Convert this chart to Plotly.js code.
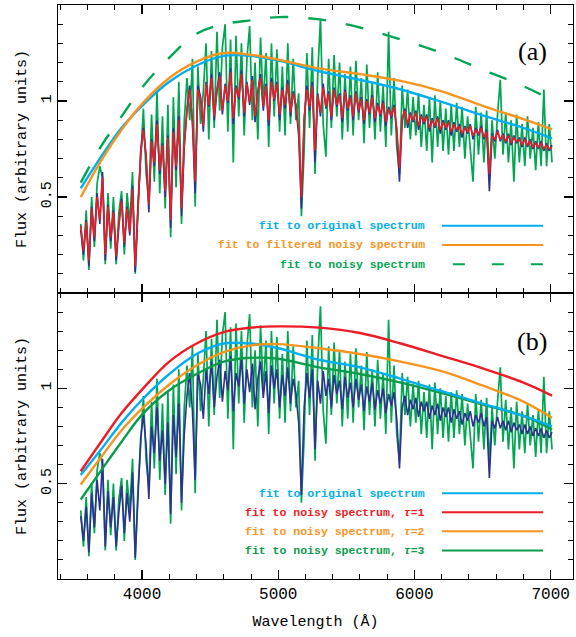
<!DOCTYPE html>
<html><head><meta charset="utf-8">
<script src="https://cdn.plot.ly/plotly-3.0.1.min.js"></script>
<style>html,body{margin:0;padding:0;background:#fff;} #chart{width:576px;height:637px;}</style>
</head><body><div id="chart"></div>
<script>
// Wavelength grid of the spectra (Angstrom)
const wavelength = [
3550,3570,3590,3610,3630,3650,3670,3690,3710,3730,
3750,3770,3790,3810,3830,3850,3870,3890,3910,3930,
3950,3970,3990,4010,4030,4050,4070,4090,4110,4130,
4150,4170,4190,4210,4230,4250,4270,4290,4310,4330,
4350,4370,4390,4410,4430,4450,4470,4490,4510,4530,
4550,4570,4590,4610,4630,4650,4670,4690,4710,4730,
4750,4770,4790,4810,4830,4850,4870,4890,4910,4930,
4950,4970,4990,5010,5030,5050,5070,5090,5110,5130,
5150,5170,5190,5210,5230,5250,5270,5290,5310,5330,
5350,5370,5390,5410,5430,5450,5470,5490,5510,5530,
5550,5570,5590,5610,5630,5650,5670,5690,5710,5730,
5750,5770,5790,5810,5830,5850,5870,5890,5910,5930,
5950,5970,5990,6010,6030,6050,6070,6090,6110,6130,
6150,6170,6190,6210,6230,6250,6270,6290,6310,6330,
6350,6370,6390,6410,6430,6450,6470,6490,6510,6530,
6550,6570,6590,6610,6630,6650,6670,6690,6710,6730,
6750,6770,6790,6810,6830,6850,6870,6890,6910,6930,
6950,6970,6990,7010];

// Original spectrum (dark blue)
const originalSpectrum = [
0.33,0.20,0.38,0.14,0.45,0.27,0.52,0.36,0.63,0.17,
0.46,0.27,0.43,0.17,0.35,0.49,0.24,0.45,0.30,0.56,
0.11,0.42,0.74,0.86,0.70,0.42,0.80,0.66,0.90,0.62,
0.78,0.50,0.82,0.34,0.86,0.64,0.92,0.40,0.76,0.96,
1.08,0.88,0.52,1.08,1.02,0.84,1.10,0.97,1.14,0.90,
1.06,1.15,0.93,1.09,0.99,1.17,0.88,1.08,1.01,1.16,
0.92,1.10,0.98,1.13,0.89,1.05,1.14,0.95,1.09,0.87,
1.12,1.00,1.10,0.90,1.07,0.96,1.11,0.92,1.05,0.97,
0.82,0.44,0.90,1.08,0.95,1.10,0.68,1.04,0.92,1.09,
0.96,1.05,0.90,1.07,0.97,1.04,0.89,1.06,0.95,1.03,
0.90,1.05,0.94,1.02,0.88,1.01,0.93,1.03,0.89,0.99,
0.92,1.00,0.87,0.97,0.91,0.98,0.84,0.58,0.90,0.96,
0.86,0.94,0.89,0.95,0.85,0.93,0.88,0.93,0.84,0.91,
0.86,0.92,0.83,0.90,0.85,0.90,0.82,0.89,0.84,0.88,
0.81,0.87,0.83,0.88,0.80,0.86,0.82,0.87,0.80,0.85,
0.53,0.83,0.79,0.85,0.79,0.83,0.78,0.83,0.77,0.82,
0.78,0.81,0.76,0.81,0.76,0.80,0.75,0.79,0.75,0.79,
0.74,0.78,0.74,0.77];

// Filtered noisy spectrum (red)
const filteredSpectrum = [
0.35,0.22,0.37,0.17,0.44,0.29,0.50,0.38,0.60,0.20,
0.45,0.29,0.42,0.19,0.36,0.48,0.26,0.44,0.32,0.54,
0.14,0.43,0.72,0.85,0.72,0.46,0.79,0.68,0.88,0.64,
0.77,0.53,0.81,0.38,0.84,0.66,0.90,0.44,0.77,0.95,
1.06,0.90,0.58,1.06,1.01,0.87,1.09,0.98,1.12,0.92,
1.05,1.13,0.95,1.08,1.00,1.15,0.91,1.07,1.02,1.14,
0.94,1.09,0.99,1.11,0.92,1.05,1.12,0.97,1.08,0.90,
1.10,1.01,1.09,0.93,1.06,0.98,1.09,0.94,1.04,0.98,
0.85,0.50,0.91,1.06,0.97,1.08,0.74,1.03,0.94,1.07,
0.97,1.04,0.92,1.06,0.98,1.03,0.91,1.05,0.96,1.02,
0.92,1.04,0.95,1.01,0.90,1.00,0.94,1.02,0.91,0.98,
0.93,0.99,0.89,0.96,0.92,0.97,0.86,0.65,0.91,0.95,
0.88,0.93,0.90,0.94,0.87,0.92,0.89,0.92,0.86,0.90,
0.87,0.91,0.85,0.89,0.86,0.89,0.84,0.88,0.85,0.87,
0.83,0.86,0.84,0.87,0.82,0.85,0.83,0.86,0.81,0.84,
0.62,0.82,0.80,0.84,0.80,0.82,0.79,0.82,0.78,0.81,
0.79,0.80,0.77,0.80,0.77,0.79,0.76,0.78,0.76,0.78,
0.75,0.77,0.75,0.76];

// Noisy spectrum (green)
const noisySpectrum = [
0.36,0.17,0.43,0.12,0.50,0.24,0.57,0.66,0.60,0.15,
0.52,0.23,0.50,0.15,0.42,0.53,0.20,0.52,0.36,0.63,
0.10,0.47,0.70,0.96,0.62,0.48,0.93,0.58,1.05,0.52,
0.92,0.44,0.98,0.29,1.02,0.55,1.10,0.36,0.90,1.12,
0.90,1.22,0.45,1.18,0.88,1.05,1.30,0.80,1.26,0.86,
1.36,0.95,1.28,1.40,0.84,1.32,0.68,1.34,0.92,1.30,
0.82,1.22,1.39,0.90,1.20,0.80,1.33,0.98,1.25,0.76,
1.30,0.92,1.27,0.84,1.18,0.82,1.30,0.88,1.22,0.90,
1.04,0.40,0.74,1.25,0.86,1.28,0.62,1.14,1.43,0.88,
0.71,1.22,0.86,1.24,0.92,1.20,0.80,1.14,0.84,1.18,
0.82,1.21,0.90,1.12,0.78,1.19,0.86,1.10,0.80,1.15,
0.84,1.08,0.76,1.36,0.82,1.12,0.76,0.62,1.08,0.86,
1.06,0.80,1.02,0.82,1.04,0.76,0.98,0.74,1.02,0.68,
1.03,0.76,1.00,0.74,0.96,0.72,0.98,0.74,0.99,0.76,
0.97,0.70,0.92,0.74,0.58,0.97,0.72,0.94,0.68,0.95,
0.60,0.90,0.70,0.93,1.11,0.72,0.94,0.68,0.90,0.58,
0.93,0.68,0.88,0.66,0.92,0.70,0.86,0.64,0.89,0.66,
1.06,0.66,0.88,0.68];

// Fitted continua
const fitWavelength = [3550,3700,3850,4000,4200,4400,4600,4800,5000,5300,5600,5900,6200,6500,6800,7010];
const fitOriginalA   = [0.545,0.71,0.86,0.975,1.10,1.185,1.235,1.235,1.21,1.155,1.11,1.06,0.995,0.925,0.86,0.805];
const fitFilteredA   = [0.50,0.69,0.85,0.985,1.12,1.205,1.25,1.24,1.215,1.17,1.14,1.105,1.05,0.975,0.905,0.852];
const fitNoisyA      = [0.575,0.765,0.92,1.07,1.226,1.35,1.40,1.42,1.437,1.425,1.383,1.32,1.25,1.163,1.077,1.005];
const fitOriginalB   = [0.545,0.68,0.82,0.94,1.075,1.18,1.235,1.235,1.21,1.15,1.11,1.05,0.985,0.92,0.855,0.80];
const fitTau1        = [0.565,0.72,0.87,0.993,1.14,1.235,1.295,1.318,1.325,1.318,1.29,1.235,1.17,1.105,1.03,0.962];
const fitTau2        = [0.496,0.64,0.78,0.893,1.02,1.12,1.19,1.225,1.232,1.21,1.18,1.14,1.09,1.015,0.93,0.845];
const fitTau3        = [0.417,0.57,0.72,0.862,0.99,1.075,1.14,1.16,1.155,1.11,1.075,1.03,0.975,0.915,0.855,0.784];

const xTicks = [4000,5000,6000,7000];
const yTicks = [0.5,1];
const yTickText = ['0.5','1'];

const C = {blue:'#2e3192', red:'#ed1c24', green:'#00a651', cyan:'#00aeef', orange:'#f7941d', green2:'#0a9c4a'};
const MONO = 'Liberation Mono, Courier New, monospace';

function spec(y, color, xa, ya, w){
  return {x: wavelength, y: y, xaxis: xa, yaxis: ya, type:'scatter', mode:'lines',
          line:{color: color, width: w}, hoverinfo:'skip', showlegend:false};
}
function fit(y, color, xa, ya, dash){
  return {x: fitWavelength, y: y, xaxis: xa, yaxis: ya, type:'scatter', mode:'lines',
          line:{color: color, width: 2.4, shape:'spline', smoothing:1, dash: dash || 'solid'}, hoverinfo:'skip', showlegend:false};
}

const traces = [
  // panel (a)
  spec(noisySpectrum, C.green, 'x2', 'y2', 1.7),
  spec(originalSpectrum, C.blue, 'x2', 'y2', 1.6),
  spec(filteredSpectrum, C.red, 'x2', 'y2', 1.6),
  fit(fitNoisyA, C.green, 'x2', 'y2', '18px,20px'),
  fit(fitOriginalA, C.cyan, 'x2', 'y2'),
  fit(fitFilteredA, C.orange, 'x2', 'y2'),
  // panel (b)
  spec(noisySpectrum, C.green, 'x', 'y', 1.7),
  spec(originalSpectrum, C.blue, 'x', 'y', 1.6),
  fit(fitTau3, C.green2, 'x', 'y'),
  fit(fitOriginalB, C.cyan, 'x', 'y'),
  fit(fitTau2, C.orange, 'x', 'y'),
  fit(fitTau1, C.red, 'x', 'y')
];

const frame = {showline:true, linecolor:'#000', linewidth:1.2, mirror:'ticks', ticks:'inside',
  ticklen:9, tickwidth:1.1, tickcolor:'#000', showgrid:false, zeroline:false, fixedrange:true};
const xMinor = {tickmode:'linear', tick0:0, dtick:200, ticks:'inside', ticklen:5, tickwidth:1, tickcolor:'#000'};
const yMinor = {tickmode:'linear', tick0:0, dtick:0.1, ticks:'inside', ticklen:5, tickwidth:1, tickcolor:'#000'};
const xRange = [3383, 7164];
const yRange = [0, 1.5];
const split = 0.4983;

function yAxis(domain){
  return Object.assign({}, frame, {domain: domain, range: yRange, tickmode:'array', tickvals: yTicks, ticktext: yTickText,
    tickangle:-90, minor: yMinor, tickfont:{family: MONO, size:15, color:'#000'},
    title:{text:'Flux (arbitrary units)', font:{family: MONO, size:15, color:'#000'}, standoff:8}});
}

// legend rows: [text, color, y, dash, line start]
const legendA = [
  ['fit to original spectrum', C.cyan, 0.35, 'solid', 6202],
  ['fit to filtered noisy spectrum', C.orange, 0.25, 'solid', 6202],
  ['fit to noisy spectrum', C.green, 0.15, '12px,27px', 6282]
];
const legendB = [
  ['fit to original spectrum', C.cyan, 0.45, 'solid', 6202],
  ['fit to noisy spectrum, <i>τ</i>=1', C.red, 0.35, 'solid', 6202],
  ['fit to noisy spectrum, <i>τ</i>=2', C.orange, 0.25, 'solid', 6202],
  ['fit to noisy spectrum, <i>τ</i>=3', C.green2, 0.15, 'solid', 6202]
];
const legTextX = 6091, legLine1 = 6944;

const annotations = [], shapes = [];
function addLegend(rows, xr, yr){
  rows.forEach(r => {
    annotations.push({xref:xr, yref:yr, x:legTextX, y:r[2], xanchor:'right', yanchor:'middle', showarrow:false,
      text:'<b>'+r[0]+'</b>', font:{family: MONO, size:11.5, color:r[1]}});
    shapes.push({type:'line', xref:xr, yref:yr, x0:r[4], x1:legLine1, y0:r[2], y1:r[2],
      line:{color:r[1], width:2, dash:r[3]}});
  });
}
addLegend(legendA, 'x2', 'y2');
addLegend(legendB, 'x', 'y');
annotations.push({xref:'x2', yref:'y2', x:6863, y:1.257, showarrow:false, text:'(a)',
  font:{family:'Liberation Serif, Times New Roman, serif', size:26, color:'#000'}});
annotations.push({xref:'x', yref:'y', x:6863, y:1.246, showarrow:false, text:'(b)',
  font:{family:'Liberation Serif, Times New Roman, serif', size:26, color:'#000'}});

const layout = {
  width:576, height:637,
  margin:{l:58, r:3, t:5, b:58},
  paper_bgcolor:'#fff', plot_bgcolor:'#fff',
  font:{family: MONO, color:'#000'},
  showlegend:false,
  xaxis: Object.assign({}, frame, {domain:[0,1], anchor:'y', range:xRange, tickmode:'array', tickvals:xTicks,
    minor:xMinor, tickfont:{family: MONO, size:16, color:'#000'},
    title:{text:'Wavelength (Å)', font:{family: MONO, size:15, color:'#000'}, standoff:12}}),
  xaxis2: Object.assign({}, frame, {domain:[0,1], anchor:'y2', matches:'x', range:xRange, tickmode:'array', tickvals:xTicks,
    minor:xMinor, showticklabels:false}),
  yaxis: Object.assign(yAxis([0, split]), {anchor:'x'}),
  yaxis2: Object.assign(yAxis([split, 1]), {anchor:'x2'}),
  annotations: annotations,
  shapes: shapes
};

Plotly.newPlot('chart', traces, layout, {staticPlot:true, displayModeBar:false});
</script>
</body></html>
